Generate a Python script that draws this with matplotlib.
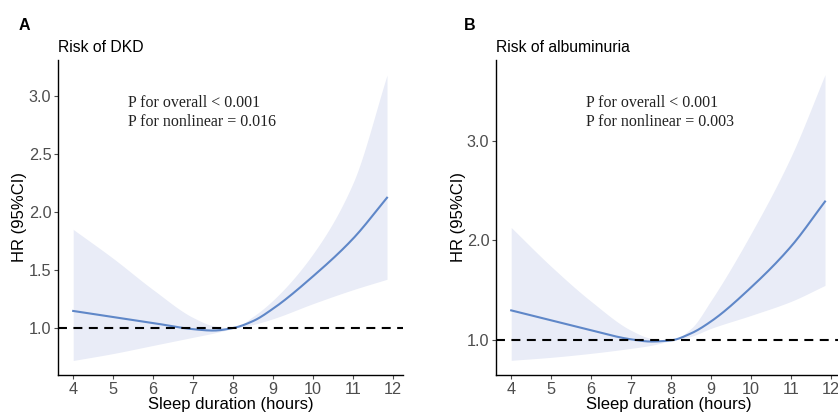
import matplotlib
matplotlib.use("Agg")
import matplotlib.pyplot as plt
import numpy as np

# valores (horas de sono)
x_pts = [4, 5, 6, 7, 7.5, 8, 8.5, 9, 10, 11, 11.85]

# painel A - DKD
hr_a = [1.147, 1.095, 1.043, 0.99, 0.978, 1.0, 1.06, 1.167, 1.446, 1.77, 2.123]
up_a = [1.85, 1.60, 1.33, 1.09, 1.02, 1.0, 1.10, 1.24, 1.64, 2.25, 3.18]
lo_a = [0.72, 0.78, 0.85, 0.92, 0.955, 0.995, 1.03, 1.08, 1.21, 1.33, 1.42]

# painel B - albuminuria
hr_b = [1.30, 1.20, 1.10, 1.01, 0.988, 1.0, 1.07, 1.19, 1.53, 1.94, 2.39]
up_b = [2.13, 1.74, 1.39, 1.10, 1.02, 1.0, 1.12, 1.40, 2.07, 2.84, 3.66]
lo_b = [0.80, 0.83, 0.87, 0.92, 0.95, 0.997, 1.04, 1.12, 1.25, 1.39, 1.55]

xticks = [4, 5, 6, 7, 8, 9, 10, 11, 12]
p_nonlin = {"A": "0.016", "B": "0.003"}

W, H = 838, 412
plt.rcParams["font.family"] = ["Liberation Sans", "DejaVu Sans"]
fig = plt.figure(figsize=(W / 100, H / 100), dpi=100)

line_cor = "#5f87c8"
fill_cor = "#e9ecf7"


def pchip(x, y, xs):
    # interpolacao cubica monotona (so para desenhar a curva lisa)
    x = np.asarray(x, float)
    y = np.asarray(y, float)
    h = np.diff(x)
    d = np.diff(y) / h
    m = np.zeros_like(y)
    for k in range(1, len(y) - 1):
        if d[k - 1] * d[k] > 0:
            w1 = 2 * h[k] + h[k - 1]
            w2 = h[k] + 2 * h[k - 1]
            m[k] = (w1 + w2) / (w1 / d[k - 1] + w2 / d[k])
    m[0] = d[0]
    m[-1] = d[-1]
    idx = np.clip(np.searchsorted(x, xs) - 1, 0, len(h) - 1)
    t = (xs - x[idx]) / h[idx]
    h00 = 2 * t**3 - 3 * t**2 + 1
    h10 = t**3 - 2 * t**2 + t
    h01 = -2 * t**3 + 3 * t**2
    h11 = t**3 - t**2
    return (h00 * y[idx] + h10 * h[idx] * m[idx] + h01 * y[idx + 1]
            + h11 * h[idx] * m[idx + 1])


def painel(px, letra, titulo, x, hr, lo, up, ylim, yticks, ptxt, lx):
    left, right, top, bottom = px
    aw, ah = right - left, bottom - top
    ax = fig.add_axes([left / W, 1 - bottom / H, aw / W, ah / H])
    xs = np.linspace(x[0], x[-1], 300)
    ax.fill_between(xs, pchip(x, lo, xs), pchip(x, up, xs), color=fill_cor, lw=0)
    ax.plot(xs, pchip(x, hr, xs), color=line_cor, lw=1.5)
    ax.axhline(1.0, color="black", lw=1.5, ls=(0, (4.3, 3.1)))
    ax.set_xlim(3.62, 12.25)
    ax.set_ylim(*ylim)
    ax.set_xticks(xticks)
    ax.set_yticks(yticks)
    ax.set_yticklabels([f"{v:.1f}" for v in yticks])
    for s in ["top", "right"]:
        ax.spines[s].set_visible(False)
    for s in ["left", "bottom"]:
        ax.spines[s].set_linewidth(1.0)
    ax.tick_params(colors="#4d4d4d", labelsize=11.7, length=3, width=0.8, pad=1.8)
    ax.set_xlabel("Sleep duration (hours)", fontsize=12, va="baseline")
    ax.xaxis.set_label_coords(0.5, -(409 - bottom) / ah)
    ax.set_ylabel("HR (95%CI)", fontsize=12, va="center")
    ax.yaxis.set_label_coords(-38 / aw, 0.5)
    ax.text(0.0, (bottom - 52) / ah, titulo, transform=ax.transAxes, fontsize=11.3,
            ha="left", va="baseline")
    ax.text(lx / aw, (bottom - 30) / ah, letra, transform=ax.transAxes, fontsize=11.5,
            fontweight="bold", ha="left", va="baseline")
    ax.text(ptxt, (bottom - 107) / ah, "P for overall < 0.001", transform=ax.transAxes,
            fontsize=11.5, family="Liberation Serif", color="#222222",
            ha="left", va="baseline")
    ax.text(ptxt, (bottom - 126.5) / ah, "P for nonlinear = " + p_nonlin[letra],
            transform=ax.transAxes, fontsize=11.5, family="Liberation Serif",
            color="#222222", ha="left", va="baseline")
    return ax


painel((58, 403, 60, 375), "A", "Risk of DKD", x_pts, hr_a, lo_a, up_a,
       (0.595, 3.31), [1.0, 1.5, 2.0, 2.5, 3.0], 0.202, -39)
painel((496, 841, 60, 375), "B", "Risk of albuminuria", x_pts, hr_b, lo_b, up_b,
       (0.653, 3.807), [1.0, 2.0, 3.0], 0.261, -32)

fig.savefig("out.png", dpi=100)
